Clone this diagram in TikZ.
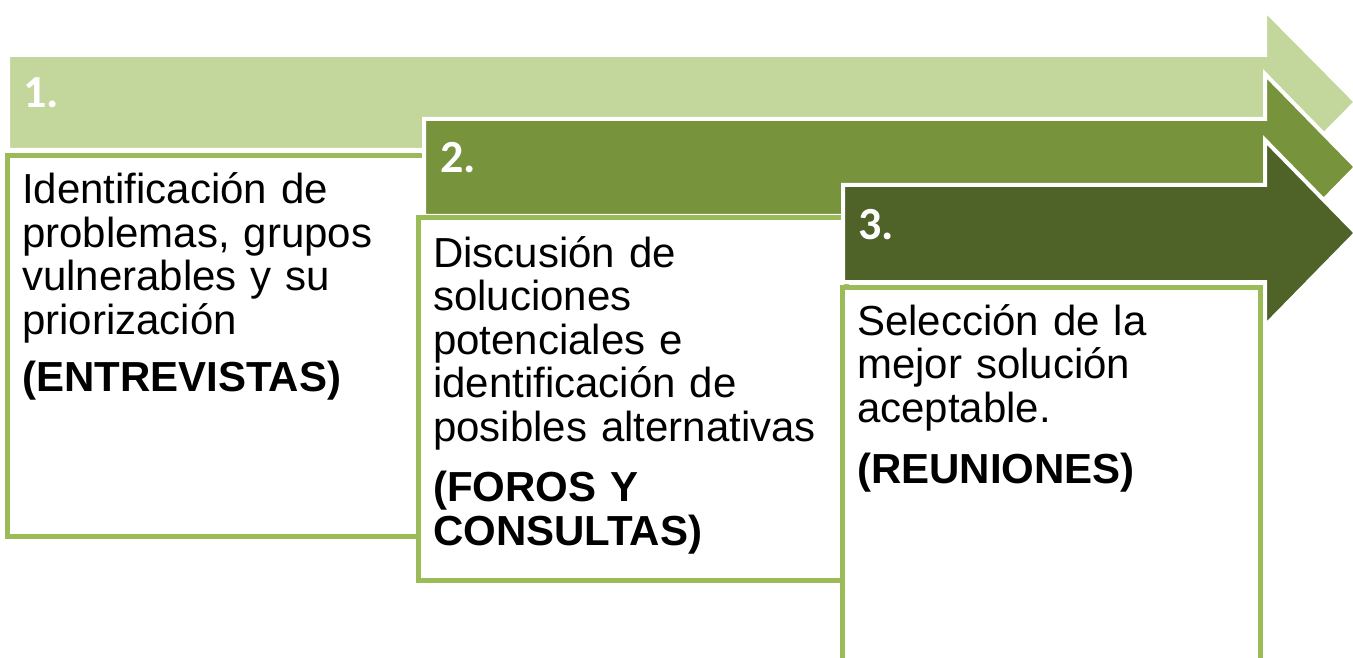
\documentclass[tikz,border=0pt]{standalone}
\usepackage{fontspec}
\setmainfont{Liberation Sans}
\newfontfamily\numfont{Carlito}

\definecolor{verdeclaro}{HTML}{C3D69B}
\definecolor{verdemedio}{HTML}{77933C}
\definecolor{verdeoscuro}{HTML}{4F6228}
\definecolor{bordecaja}{HTML}{9BBB59}

\tikzset{
  flecha/.style={fill=#1, draw=white, line width=4pt, line join=miter},
  caja/.style={fill=white, draw=bordecaja, line width=5pt},
  numero/.style={anchor=base west, inner sep=0pt, text=white,
    font=\numfont\bfseries\fontsize{46}{46}\selectfont},
  texto/.style={anchor=base west, inner sep=0pt, text width=400pt, align=left,
    font=\fontsize{42}{43.5}\selectfont}
}

\begin{document}
\begin{tikzpicture}[x=1pt,y=-1pt]
    % Marco de la figura.
    \useasboundingbox (0,0) rectangle (1353,658);

    % Paso 1: flecha clara y su caja.
    \draw[flecha=verdeclaro] (8,55) -- (1265,55) -- (1265,10) -- (1356,102)
        -- (1265,194) -- (1265,150) -- (8,150) -- cycle;
    \node[numero] (n1) at (23,108) {1.};
    \draw[caja] (7,155.5) rectangle (430,536);
    \node[texto] (t1) at (22,204) {Identificación de\\ problemas, grupos\\ vulnerables y su\\ priorización\\[14pt]
        \textbf{(ENTREVISTAS)}};

    % Paso 2: flecha media y su caja.
    \draw[flecha=verdemedio] (424,119) -- (1265,119) -- (1265,74) -- (1356,167)
        -- (1265,260) -- (1265,216) -- (424,216) -- cycle;
    \node[numero] (n2) at (440,173) {2.};
    \draw[caja] (418.5,217.5) rectangle (846,580);
    \node[texto] (t2) at (433,267) {Discusión de\\ soluciones\\ potenciales e\\ identificación de\\ posibles alternativas\\[17.5pt]
        \textbf{(FOROS Y}\\ \textbf{CONSULTAS)}};

    % Paso 3: flecha oscura y su caja.
    \draw[flecha=verdeoscuro] (843,185) -- (1265,185) -- (1265,140) -- (1356,233)
        -- (1265,326) -- (1265,282) -- (843,282) -- cycle;
    \node[numero] (n3) at (858,240) {3.};
    \draw[caja] (842,287.5) rectangle (1260,700);
    \node[texto] (t3) at (857,335) {Selección de la\\ mejor solución\\ aceptable.\\[17.5pt]
        \textbf{(REUNIONES)}};
\end{tikzpicture}
\end{document}
